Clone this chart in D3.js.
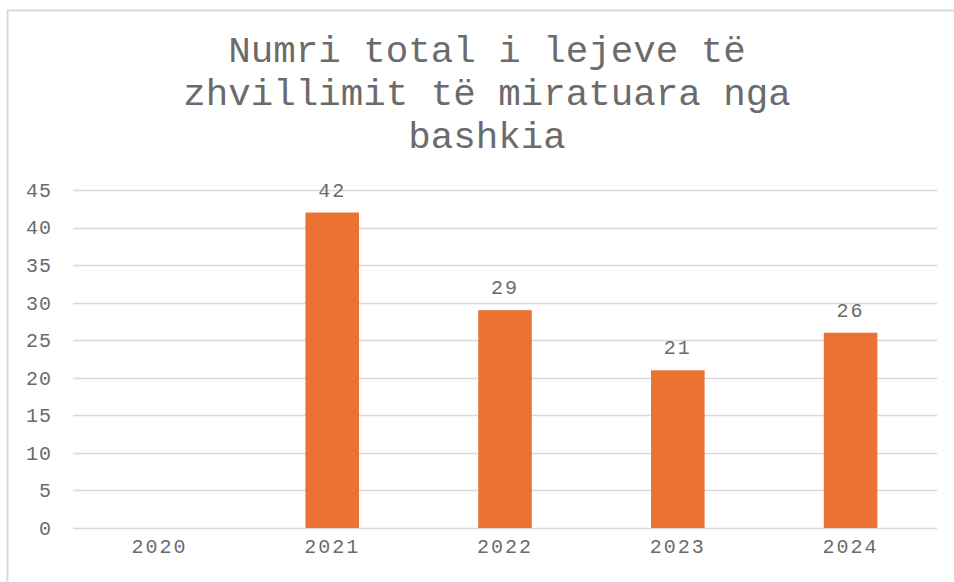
<!DOCTYPE html>
<html>
<head>
<meta charset="utf-8">
<script src="https://cdn.jsdelivr.net/npm/d3@7"></script>
<style>
  body { margin: 0; background: #fff; }
  text { font-family: "Liberation Mono", "Courier New", monospace; fill: #6b6b6b; }
</style>
</head>
<body>
<div id="chart"></div>
<script>
width = 954;
height = 582;

// data
var years = ["2020", "2021", "2022", "2023", "2024"];
var permits = [null, 42, 29, 21, 26];
var yTicks = [0, 5, 10, 15, 20, 25, 30, 35, 40, 45];
var titleLines = ["Numri total i lejeve të", "zhvillimit të miratuara nga", "bashkia"];

var plot = {left: 73, right: 937, top: 190, bottom: 528};

var svg = d3.select("#chart")
    .append("svg")
    .attr("width", width)
    .attr("height", height);

// chart border
svg.append("rect")
    .attr("x", 7.5)
    .attr("y", 10.5)
    .attr("width", width + 10)
    .attr("height", height + 10)
    .attr("fill", "none")
    .attr("stroke", "#d9d9d9")
    .attr("stroke-width", 2);

// title
svg.append("g")
    .selectAll("text")
    .data(titleLines)
    .enter()
    .append("text")
    .attr("x", 487)
    .attr("y", (d, i) => 62 + i * 43)
    .attr("text-anchor", "middle")
    .style("font-size", "37.5px")
    .text(d => d);

var x = d3.scaleBand()
    .domain(years)
    .range([plot.left, plot.right])
    .paddingInner(0.69)
    .paddingOuter(0.345);

var y = d3.scaleLinear()
    .domain([0, 45])
    .range([plot.bottom, plot.top]);

// gridlines
svg.append("g")
    .selectAll("line")
    .data(yTicks)
    .enter()
    .append("line")
    .attr("x1", plot.left)
    .attr("x2", plot.right)
    .attr("y1", d => Math.round(y(d)) + 0.5)
    .attr("y2", d => Math.round(y(d)) + 0.5)
    .attr("stroke", "#d9d9d9")
    .attr("stroke-width", 1.5);

// y axis labels
var yAxis = d3.axisLeft(y)
    .tickValues(yTicks)
    .tickSize(0)
    .tickPadding(0);

var gy = svg.append("g")
    .attr("transform", "translate(52,0)")
    .call(yAxis);
gy.select(".domain").remove();
gy.selectAll("text")
    .style("font-size", "20px")
    .style("letter-spacing", "1px")
    .style("font-family", "Liberation Mono, monospace")
    .attr("fill", "#6b6b6b");

// x axis labels
var xAxis = d3.axisBottom(x)
    .tickSize(0)
    .tickPadding(0);

var gx = svg.append("g")
    .attr("transform", "translate(0," + (plot.bottom + 11) + ")")
    .call(xAxis);
gx.select(".domain").remove();
gx.selectAll("text")
    .style("font-size", "20px")
    .style("letter-spacing", "2px")
    .style("font-family", "Liberation Mono, monospace")
    .attr("fill", "#6b6b6b");

// bars
var shown = years.map((d, i) => ({year: d, value: permits[i]})).filter(d => d.value != null);

svg.append("g")
    .selectAll("rect")
    .data(shown)
    .enter()
    .append("rect")
    .attr("x", d => x(d.year))
    .attr("y", d => y(d.value))
    .attr("width", x.bandwidth())
    .attr("height", d => y(0) - y(d.value))
    .attr("fill", "#eb7233");

// data labels
svg.append("g")
    .selectAll("text")
    .data(shown)
    .enter()
    .append("text")
    .attr("x", d => x(d.year) + x.bandwidth() / 2)
    .attr("y", d => y(d.value) - 16)
    .attr("text-anchor", "middle")
    .style("font-size", "20px")
    .style("letter-spacing", "2px")
    .text(d => d.value);
</script>
</body>
</html>
